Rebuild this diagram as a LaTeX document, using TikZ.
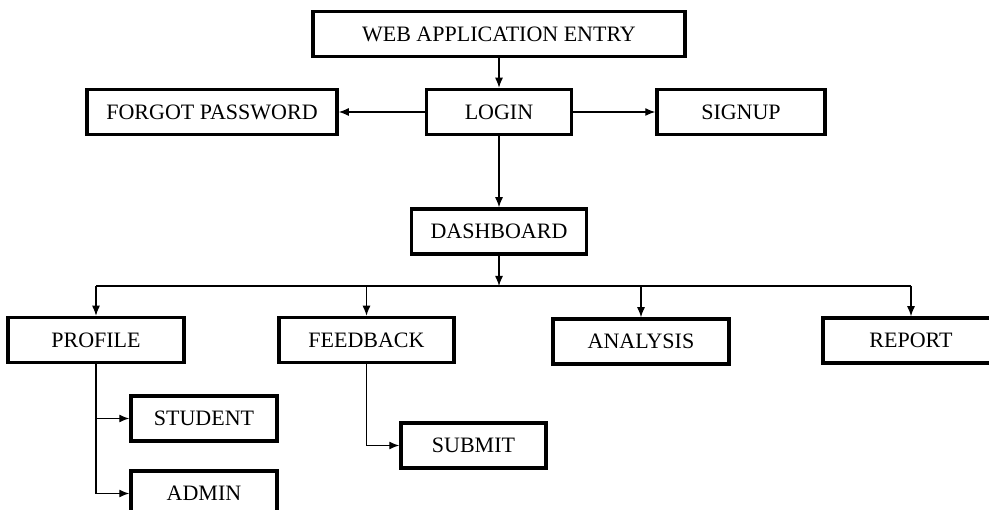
\documentclass[tikz,border=0pt]{standalone}
\usepackage{fontspec}
\setmainfont{Liberation Serif}
\usetikzlibrary{arrows.meta}

\begin{document}
\begin{tikzpicture}[x=1pt,y=-1pt,>={Latex[length=10pt,width=8pt]}]
	\tikzstyle{box}=[draw,line width=3.5pt,inner sep=0pt,minimum height=45pt,
	font=\fontsize{22}{26}\selectfont]
	\tikzstyle{link}=[line width=1.3pt]
	\useasboundingbox (0,0) rectangle (989,510);
	% top part
	\node[box,minimum width=372pt] (entry) at (499,34) {WEB APPLICATION ENTRY};
	\node[box,minimum width=145pt] (login) at (499,112) {LOGIN};
	\node[box,minimum width=250pt] (forgot) at (212,112) {FORGOT PASSWORD};
	\node[box,minimum width=168pt] (signup) at (741,112) {SIGNUP};
	\node[box,minimum width=175pt] (dash) at (499,231.5) {DASHBOARD};
	% second level
	\coordinate (bus) at (499,286);
	\node[box,minimum width=176pt] (profile) at (96,340) {PROFILE};
	\node[box,minimum width=175pt] (feedback) at (366.5,340) {FEEDBACK};
	\node[box,minimum width=176pt] (analysis) at (641,341.5) {ANALYSIS};
	\node[box,minimum width=176pt] (report) at (911,340.5) {REPORT};
	% third level
	\node[box,minimum width=146pt] (student) at (204,418.5) {STUDENT};
	\node[box,minimum width=146pt] (admin) at (204,493.5) {ADMIN};
	\node[box,minimum width=145pt] (submit) at (473.5,445.5) {SUBMIT};
	% connectors
	\draw[link,->] (entry) -- (login);
	\draw[link,->] (login) -- (forgot);
	\draw[link,->] (login) -- (signup);
	\draw[link,->] (login) -- (dash);
	\draw[link,->] (dash) -- (bus);
	\draw[link] (profile.north |- bus) -- (report.north |- bus);
	\foreach \n in {profile,feedback,analysis,report}
		\draw[link,->] (\n.north |- bus) -- (\n.north);
	\draw[link,->] (profile.south) |- (student.west);
	\draw[link,->] (profile.south) |- (admin.west);
	\draw[link,->] (feedback.south) |- (submit.west);
\end{tikzpicture}
\end{document}
